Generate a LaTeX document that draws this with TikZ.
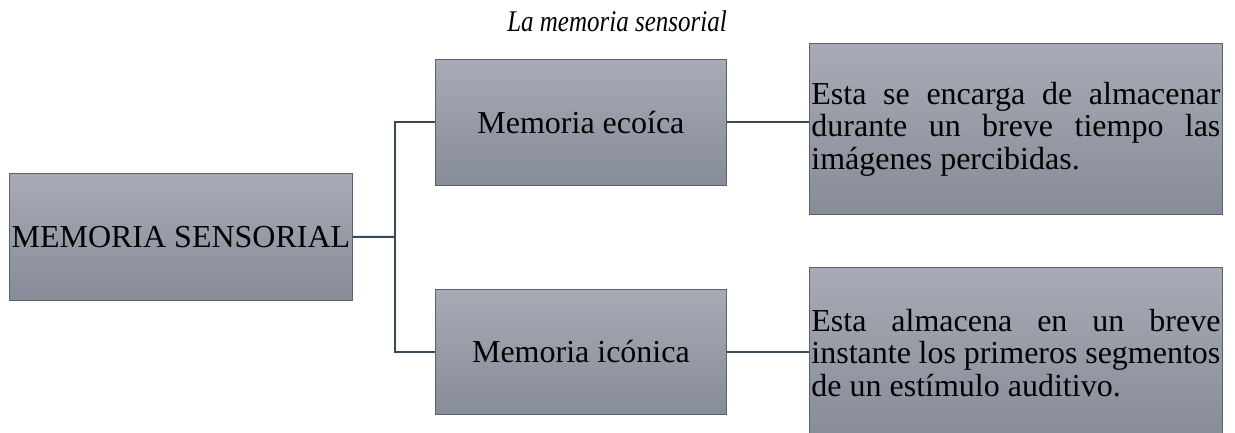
\documentclass[tikz,border=0pt]{standalone}
\usepackage{fontspec}
\setmainfont{Liberation Serif}
\usetikzlibrary{calc}
\definecolor{grisclaro}{RGB}{166,171,181}
\definecolor{grisoscuro}{RGB}{134,140,152}
\definecolor{bordegris}{RGB}{92,97,106}
\definecolor{azulgris}{RGB}{58,72,92}

\begin{document}
\begin{tikzpicture} [x=1pt, y=-1pt]
    \tikzstyle{every node}=[inner sep=0pt,
				% The text:
				font=\fontsize{32}{32.5}\selectfont
					]
    \tikzstyle{caja} = [anchor=north west,
				% The border:
				draw=bordegris, line width=0.8pt,
				% The filling:
				top color=grisclaro, bottom color=grisoscuro]
    \tikzstyle{texto} = [caja, text width=409pt, inner xsep=2pt, align=justify,
				execute at begin node={\hyphenpenalty=10000 \tolerance=10000}]
    \tikzstyle{enlace} = [draw=azulgris, line width=2pt]
    \useasboundingbox (0,0) rectangle (1235,433);
    \node[anchor=base, font=\fontsize{25}{30}\selectfont\itshape] (titulo) at (617,32) {\scalebox{1}[1.2]{La memoria sensorial}};
    \node[caja, minimum width=343pt, minimum height=127pt] (sensorial) at (9,173) {MEMORIA SENSORIAL};
    \node[caja, minimum width=291pt, minimum height=126pt] (ecoica) at (435,59) {Memoria eco\'ica};
    \node[caja, minimum width=291pt, minimum height=125pt] (iconica) at (435,289) {Memoria ic\'onica};
    \node[texto, minimum height=171pt] (descecoica) at (809,43)
        {Esta se encarga de almacenar durante un breve tiempo las im\'agenes percibidas.};
    \node[texto, minimum height=171pt] (desciconica) at (809,267)
        {Esta almacena en un breve instante los primeros segmentos de un est\'imulo auditivo.};
    % connectors
    \coordinate (rama) at (395,237);
    \draw[enlace] (sensorial.east) -- (rama);
    \draw[enlace] (ecoica.west) -| (rama) |- (iconica.west);
    \draw[enlace] (ecoica.east) -- (ecoica.east -| descecoica.west);
    \draw[enlace] (iconica.east) -- (iconica.east -| desciconica.west);
\end{tikzpicture}
\end{document}
